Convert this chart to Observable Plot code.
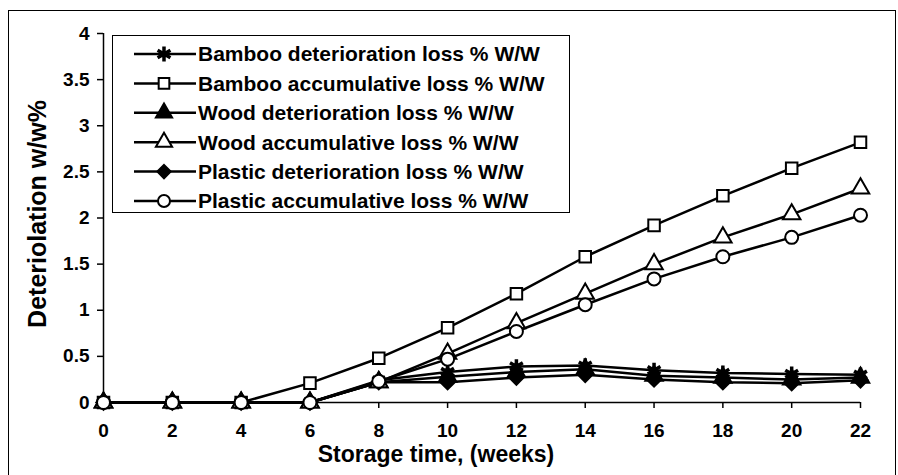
<!DOCTYPE html>
<html>
<head>
<meta charset="utf-8">
<script src="https://cdn.jsdelivr.net/npm/d3@7"></script>
<script src="https://cdn.jsdelivr.net/npm/@observablehq/plot@0.6"></script>
<style>
  body { margin: 0; background: white; }
  #wrap { position: relative; width: 898px; height: 475px; overflow: hidden; font-family: "Liberation Sans", Arial, sans-serif; }
  #frame { position: absolute; left: 8px; top: 10px; width: 888px; height: 480px; border: 1.5px solid black; box-sizing: border-box; pointer-events: none; }
  #legend { position: absolute; left: 112px; top: 35px; width: 458px; height: 178px; border: 1.5px solid black; background: white; box-sizing: border-box; }
  #legend svg { position: absolute; left: 0; top: 0; }
</style>
</head>
<body>
<div id="wrap"><div id="chart"></div><div id="frame"></div><div id="legend"></div></div>
<script>
const weeks = [0, 2, 4, 6, 8, 10, 12, 14, 16, 18, 20, 22];
const bambooDet  = [0, 0, 0, 0, 0.24, 0.33, 0.39, 0.40, 0.35, 0.32, 0.31, 0.30];
const bambooAcc  = [0, 0, 0, 0.21, 0.48, 0.81, 1.18, 1.58, 1.92, 2.24, 2.54, 2.82];
const woodDet    = [0, 0, 0, 0, 0.22, 0.28, 0.33, 0.36, 0.29, 0.27, 0.25, 0.27];
const woodAcc    = [0, 0, 0, 0, 0.22, 0.53, 0.86, 1.18, 1.50, 1.79, 2.04, 2.32];
const plasticDet = [0, 0, 0, 0, 0.22, 0.22, 0.27, 0.30, 0.25, 0.22, 0.21, 0.24];
const plasticAcc = [0, 0, 0, 0, 0.23, 0.47, 0.77, 1.06, 1.34, 1.58, 1.79, 2.03];
const yTicks = [0, 0.5, 1, 1.5, 2, 2.5, 3, 3.5, 4];
const seriesNames = [
  "Bamboo deterioration loss % W/W",
  "Bamboo accumulative loss % W/W",
  "Wood deterioration loss % W/W",
  "Wood accumulative loss % W/W",
  "Plastic deterioration loss % W/W",
  "Plastic accumulative loss % W/W"
];
const seriesValues = [bambooDet, bambooAcc, woodDet, woodAcc, plasticDet, plasticAcc];
const seriesSymbols = ["asterisk", "square", "triangle", "triangle", "diamond2", "circle"];
const seriesFill = ["black", "white", "black", "white", "black", "white"];
const xLabel = "Storage time, (weeks)";
const yLabel = "Deteriolation w/w%";

const rows = [];
seriesNames.forEach((name, i) => {
  seriesValues[i].forEach((v, j) => rows.push({series: name, idx: i, week: weeks[j], value: v}));
});

const FONT = "'Liberation Sans', Arial, sans-serif";
const marks = [
  Plot.axisX({ticks: weeks, tickSize: 6, tickPadding: 15, tickFormat: d => String(d), label: null, fontSize: 19, fontWeight: "bold", strokeWidth: 1.5}),
  Plot.axisY({ticks: yTicks, tickSize: 6, tickPadding: 8, tickFormat: d => String(d), label: null, fontSize: 19, fontWeight: "bold", strokeWidth: 1.5}),
  Plot.ruleY([0], {strokeWidth: 1.5}),
  Plot.ruleX([0], {strokeWidth: 1.5}),
  Plot.text([xLabel], {frameAnchor: "bottom", textAnchor: "middle", dx: -46, dy: 52, fontSize: 23, fontWeight: "bold", lineAnchor: "middle"}),
  Plot.text([yLabel], {frameAnchor: "left", textAnchor: "middle", dx: -66, dy: -4, rotate: -90, fontSize: 25, fontWeight: "bold", lineAnchor: "middle"})
];
seriesNames.forEach((name, i) => {
  const d = rows.filter(r => r.idx === i);
  marks.push(Plot.line(d, {x: "week", y: "value", stroke: "black", strokeWidth: 2.5}));
  marks.push(Plot.dot(d, {x: "week", y: "value", symbol: () => seriesSymbols[i], r: seriesSymbols[i] === "asterisk" ? 7 : 6.5,
    fill: seriesFill[i], stroke: "black", strokeWidth: seriesSymbols[i] === "asterisk" ? 3.5 : 2}));
});

const chart = Plot.plot({
  width: 898, height: 475,
  marginLeft: 103, marginRight: 38, marginTop: 33, marginBottom: 73,
  style: {fontFamily: FONT, background: "transparent", color: "black"},
  x: {domain: [0, 22]},
  y: {domain: [0, 4]},
  symbol: {type: "identity"},
  marks
});
document.getElementById("chart").appendChild(chart);

// Legend
const lg = d3.select("#legend").append("svg").attr("width", 458).attr("height", 178);
const symMap = {asterisk: d3.symbolAsterisk, square: d3.symbolSquare, triangle: d3.symbolTriangle, diamond2: d3.symbolDiamond2, circle: d3.symbolCircle};
seriesNames.forEach((name, i) => {
  const cy = 18 + i * 29.4;
  const g = lg.append("g").attr("transform", `translate(0,${cy})`);
  g.append("line").attr("x1", 21).attr("x2", 83).attr("stroke", "black").attr("stroke-width", 2.5);
  const r = seriesSymbols[i] === "asterisk" ? 7 : 6;
  g.append("path").attr("transform", "translate(51,0)")
    .attr("d", d3.symbol(symMap[seriesSymbols[i]], Math.PI * r * r)())
    .attr("fill", seriesFill[i]).attr("stroke", "black")
    .attr("stroke-width", seriesSymbols[i] === "asterisk" ? 3.5 : 2);
  g.append("text").attr("x", 85).attr("dy", "0.35em")
    .attr("font-size", 21).attr("font-weight", "bold")
    .attr("font-family", FONT)
    .text(name);
});
</script>
</body>
</html>
